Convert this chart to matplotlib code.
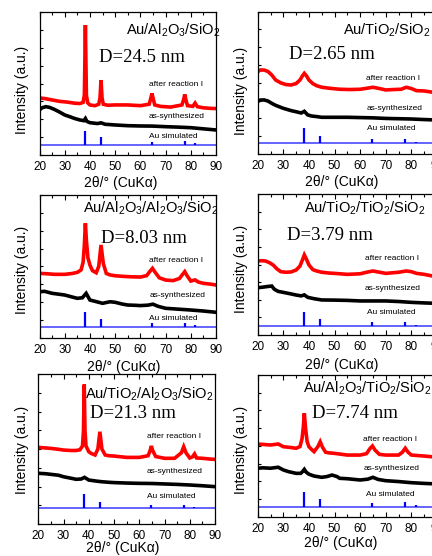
import matplotlib
matplotlib.use("Agg")
import matplotlib.pyplot as plt
from matplotlib.ticker import MultipleLocator, NullFormatter

plt.rcParams['font.family'] = ['Liberation Sans', 'DejaVu Sans']
plt.rcParams['mathtext.fontset'] = 'custom'
plt.rcParams['mathtext.rm'] = 'Liberation Sans'
plt.rcParams['mathtext.default'] = 'regular'

# ---------------- data ----------------
au_peak_pos = [38.2, 44.4, 64.6, 77.6, 81.7]

titles = ['Au/Al$_2$O$_3$/SiO$_2$', 'Au/TiO$_2$/SiO$_2$',
          'Au/Al$_2$O$_3$/Al$_2$O$_3$/SiO$_2$', 'Au/TiO$_2$/TiO$_2$/SiO$_2$',
          'Au/TiO$_2$/Al$_2$O$_3$/SiO$_2$', 'Au/Al$_2$O$_3$/TiO$_2$/SiO$_2$']
sizes = ['D=24.5 nm', 'D=2.65 nm', 'D=8.03 nm', 'D=3.79 nm', 'D=21.3 nm', 'D=7.74 nm']
curve_names = ['after reaction I', 'as-synthesized', 'Au simulated']

# panel 1
p1_red_x = [20, 22, 25, 28, 31, 34, 36, 37.3, 37.8, 38.2, 38.6, 39.1, 40, 42, 43.5, 44.0, 44.4, 44.8, 45.3, 47, 50, 55, 60,
            63.5, 64.2, 64.6, 65.0, 65.7, 68, 72, 76.5, 77.2, 77.6, 78.0, 78.7, 80.8, 81.7, 82.6, 85, 88, 90]
p1_red_y = [39.9, 39.5, 38.5, 37.5, 37, 36.2, 36, 36.8, 42, 90.9, 42, 36.5, 35, 34.5, 35.5, 40, 52.4, 40, 35.5, 34.8, 35, 35, 34.5,
            35.5, 40, 43.1, 40, 35, 34, 33.5, 35, 39, 42.4, 39, 34.5, 34, 36.3, 33.8, 33, 32.6, 32.5]
p1_blk_x = [20, 21, 22.5, 24, 26, 28, 30, 32, 34, 36, 37.6, 38.2, 38.8, 40, 43, 44.4, 46, 50, 55, 60, 65, 70, 75, 80, 85, 90]
p1_blk_y = [31.5, 33, 33.8, 33.3, 31.8, 30, 28, 26.8, 25.5, 24.5, 24, 25.5, 23.5, 22.6, 22, 22.5, 21.5, 21, 20.5, 20.3, 20.2,
            19.8, 19.5, 19.1, 18.3, 17.5]
p1_au_base = 7.0
p1_au_top = [17, 12.8, 9.3, 9.6, 8.3]

# panel 2
p2_red_x = [20, 21, 22.5, 24, 25.5, 27, 29, 31, 33, 35, 36.5, 37.5, 38.2, 39, 40, 41.5, 43, 45, 48, 52, 56, 60, 63, 65, 67,
            70, 73, 76, 78, 80, 82, 85, 88, 90]
p2_red_y = [57.8, 59, 59, 58, 55.5, 52, 50, 48.8, 48.5, 49.5, 52, 55, 56.7, 55, 52, 49.5, 48, 46.9, 46.2, 45.5, 45.3, 45.5,
            46.3, 46.9, 46.2, 45, 45.3, 45.5, 46.9, 46, 44.5, 44.3, 43.5, 43]
p2_blk_x = [20, 21, 22.5, 24, 25.5, 27, 30, 33, 35, 37, 38.2, 39.5, 41, 43, 45, 50, 55, 60, 65, 70, 75, 80, 85, 90]
p2_blk_y = [36.8, 37.9, 38, 37.2, 35.6, 34.2, 32.1, 30.5, 29.7, 28.8, 30, 27.5, 26.7, 26.3, 25.8, 25.8, 25.8, 25.6, 25.4,
            25, 24.8, 24.6, 24.2, 23.9]
p2_au_base = 7.9
p2_au_top = [18, 12.6, 10.3, 10.3, 8.6]

# panel 3
p3_red_x = [20, 23, 26, 30, 33, 35, 36.5, 37.3, 37.8, 38.2, 38.6, 39.2, 40, 41, 42.5, 43.5, 44.4, 45.3, 46.5, 48, 50, 53, 56,
            60, 62.5, 63.8, 64.8, 65.8, 67.5, 70, 73, 75.5, 76.8, 77.6, 78.5, 80, 81.7, 83, 85, 88, 90]
p3_red_y = [45.1, 44.8, 44.4, 44.4, 45, 45.8, 47.5, 53, 65, 80.2, 68, 56, 50.9, 47, 45.5, 50, 65, 52, 45, 44, 43.4, 43, 42.7,
            42.5, 43.5, 46.5, 48.6, 46, 42, 40.4, 40, 41.5, 44.5, 46.3, 43.5, 39.7, 40.5, 39, 38.1, 37.5, 36.9]
p3_blk_x = [20, 22, 25, 28, 30, 33, 35, 37, 38.5, 40, 42, 45, 48, 50, 53, 55, 58, 60, 63, 65, 67, 70, 75, 80, 85, 90]
p3_blk_y = [32.2, 32.5, 31.1, 30.4, 29.9, 28.5, 27.6, 28, 31.1, 26.4, 25.5, 24.1, 25.2, 24.8, 23.5, 22.9, 22.7, 22.5, 22.8,
            23.5, 22, 20.6, 20, 19.4, 18.7, 17.8]
p3_au_base = 7.7
p3_au_top = [18.2, 12.9, 10.1, 10.5, 8.9]

# panel 4
p4_red_x = [20, 21.5, 23, 24.5, 26, 27.5, 29, 31, 33, 35, 36.5, 37.5, 38.2, 39, 40, 41.5, 43, 45, 48, 50, 55, 60, 63, 65, 67,
            70, 75, 78, 80, 82, 85, 88, 90]
p4_red_y = [52.6, 52.8, 52.6, 51.5, 49.8, 47, 45, 44.6, 44.8, 46.2, 49, 53.5, 56.9, 54, 49.8, 46.5, 45.5, 44.6, 44, 43.8,
            43.1, 43.5, 44.8, 45.5, 44.8, 43.8, 44.6, 45.5, 45, 43.8, 43.1, 42, 41.5]
p4_blk_x = [20, 22, 24, 25.5, 26.5, 28, 30, 33, 35, 37, 38.2, 39.5, 42, 45, 50, 55, 60, 65, 70, 75, 80, 85, 90]
p4_blk_y = [33.6, 34, 34.5, 34.8, 32.5, 31, 30.3, 29.2, 28.4, 27.8, 28.5, 26.8, 25.8, 24.9, 24.8, 24.6, 24.2, 24.2, 24.2,
            23.8, 23.2, 22.8, 22.5]
p4_au_base = 6.6
p4_au_top = [16.6, 11.4, 9.0, 9.0, 7.1]

# panel 5
p5_red_x = [20, 22, 25, 28, 30, 33, 35, 36.5, 37.5, 37.9, 38.2, 38.5, 38.9, 40, 41, 42.5, 43.6, 44.4, 45.2, 46.5, 48, 50, 55,
            60, 63.5, 64.3, 64.8, 65.3, 66.5, 70, 74, 76.7, 77.6, 78.5, 80, 81.1, 81.9, 82.7, 85, 88, 90]
p5_red_y = [51.1, 50.8, 50.4, 49.8, 49.3, 49, 49, 49.5, 52, 62, 93, 62, 52, 48.2, 47, 46, 50, 61.5, 50, 46, 45.5, 45.3, 44.4,
            44.4, 45.5, 49, 52, 49, 45, 43.8, 43.8, 47.5, 51.5, 47.5, 44, 44.8, 46.7, 44, 43.8, 43.3, 43.1]
p5_blk_x = [20, 23, 25, 28, 30, 33, 35, 37, 38.3, 40, 43, 45, 48, 50, 55, 60, 65, 70, 75, 80, 85, 90]
p5_blk_y = [33.8, 33.5, 33.1, 32.5, 31.5, 30.5, 29.8, 30, 31.1, 29.3, 28.6, 28.2, 27.8, 27.6, 27.3, 27.1, 27, 26.7, 26.4,
            26, 25.5, 24.9]
p5_au_base = 10.4
p5_au_top = [20, 14.9, 12.7, 12.7, 11.6]

# panel 6
p6_red_x = [20, 22, 25, 28, 30, 33, 35, 36.5, 37.3, 37.8, 38.2, 38.7, 39.3, 40, 41, 42, 43.5, 44.4, 45.3, 46.5, 48, 50, 55,
            60, 62.5, 63.8, 64.8, 65.8, 67.5, 70, 75, 76.5, 77.6, 78.7, 80, 85, 88, 90]
p6_red_y = [51.3, 51, 50.6, 51.3, 49.4, 48.8, 48.3, 49.5, 55, 63, 73, 62, 53, 49.4, 47.5, 45.9, 49.5, 52.9, 49, 45.5, 45,
            44.7, 43.5, 43.5, 44.5, 48, 49.9, 47, 44, 43.5, 43.5, 45.5, 48.3, 45.5, 43.5, 42.8, 42.3, 41.9]
p6_blk_x = [20, 22, 25, 28, 30, 32, 35, 36.8, 37.6, 38.2, 38.9, 40, 42, 45, 47, 49, 51, 52, 55, 60, 63, 65, 67, 70, 75, 80,
            85, 90]
p6_blk_y = [34.2, 34.5, 34.2, 34.9, 33, 31.8, 30.6, 30.6, 32, 33.4, 31.5, 30, 28.7, 27.8, 28.3, 29.4, 28.3, 27.1, 26.8, 25.9,
            26.5, 27.8, 26.3, 25.4, 24.8, 24, 23.5, 23.1]
p6_au_base = 7.1
p6_au_top = [17.6, 12.3, 9.9, 10.1, 8.3]

panels = [
    (p1_red_x, p1_red_y, p1_blk_x, p1_blk_y, p1_au_base, p1_au_top),
    (p2_red_x, p2_red_y, p2_blk_x, p2_blk_y, p2_au_base, p2_au_top),
    (p3_red_x, p3_red_y, p3_blk_x, p3_blk_y, p3_au_base, p3_au_top),
    (p4_red_x, p4_red_y, p4_blk_x, p4_blk_y, p4_au_base, p4_au_top),
    (p5_red_x, p5_red_y, p5_blk_x, p5_blk_y, p5_au_base, p5_au_top),
    (p6_red_x, p6_red_y, p6_blk_x, p6_blk_y, p6_au_base, p6_au_top),
]

# ---------------- layout (pixels: left, top, right, bottom) ----------------
W, H = 432, 556
rects = [(39.5, 12, 216, 155), (257.7, 11.7, 437, 154),
         (39.5, 195, 216, 337.7), (257.7, 194.3, 437, 335),
         (38.3, 374, 215, 524), (257.7, 375, 437, 516.7)]
# text anchors (x left, y center) in pixels
title_pos = [(126, 30), (342.7, 30.7), (83.3, 208.3), (304.3, 208.3), (85, 394), (303.3, 388.3)]
d_pos = [(99, 57), (289, 54), (101, 238.3), (286.7, 235), (90, 413.3), (312.3, 413.3)]
lab_pos = [[(149, 84), (149, 117), (149, 137)],
           [(366, 78.7), (366.7, 108.3), (366.7, 128.3)],
           [(149.3, 261), (149.3, 295.7), (149.3, 318.3)],
           [(365, 258.3), (365, 289), (366.7, 312.7)],
           [(146.7, 436), (146.7, 471.7), (146.7, 496)],
           [(363.3, 439.3), (364, 469), (366, 494.3)]]
ylab_pos = [(22, 90), (241, 91), (22, 270), (241, 269), (22, 450), (241, 450)]
xlab_pos = [(121, 183), (341.7, 181.7), (124, 366.7), (341.7, 365), (123, 548), (340.8, 543.3)]

fig = plt.figure(figsize=(W / 100, H / 100), dpi=100)


def frac(rect, x, y):
    l, t, r, b = rect
    return (x - l) / (r - l), (b - y) / (b - t)


for i, (rx, ry, bx, by, base, tops) in enumerate(panels):
    l, t, r, b = rects[i]
    ax = fig.add_axes([l / W, 1 - b / H, (r - l) / W, (b - t) / H])
    ax.plot(rx, ry, color='#ff0000', lw=2.6, solid_joinstyle='miter')
    ax.plot(bx, by, color='black', lw=2.6, solid_joinstyle='miter')
    ax.axhline(base, color='#3a3aff', lw=1.1)
    ax.vlines(au_peak_pos, base, tops, color='#0000ff', lw=1.6)
    ax.set_xlim(20, 90)
    ax.set_ylim(0, 100)
    ax.xaxis.set_major_locator(MultipleLocator(10))
    ax.xaxis.set_minor_locator(MultipleLocator(5))
    ax.yaxis.set_major_locator(MultipleLocator(12.5))
    ax.yaxis.set_major_formatter(NullFormatter())
    ax.tick_params(axis='x', which='both', direction='in', top=True, labelsize=8.5, pad=4.5, width=0.8)
    ax.tick_params(axis='x', which='major', length=3.5)
    ax.tick_params(axis='x', which='minor', length=2)
    ax.tick_params(axis='y', which='both', direction='in', left=True, right=False, length=2.5, width=0.8)
    for s in ax.spines.values():
        s.set_linewidth(0.9)
    ax.set_xlabel('2θ/° (CuKα)', fontsize=10, va='center', ha='center')
    ax.set_ylabel('Intensity (a.u.)', fontsize=10, va='center', ha='center')
    ax.xaxis.set_label_coords(*frac(rects[i], *xlab_pos[i]))
    ax.yaxis.set_label_coords(*frac(rects[i], *ylab_pos[i]))

    ax.text(*frac(rects[i], *title_pos[i]), titles[i], transform=ax.transAxes,
            fontsize=10.5, ha='left', va='center')
    ax.text(*frac(rects[i], *d_pos[i]), sizes[i], transform=ax.transAxes,
            fontsize=13.5, ha='left', va='center', family='Liberation Serif')
    for k in range(3):
        ax.text(*frac(rects[i], *lab_pos[i][k]), curve_names[k], transform=ax.transAxes,
                fontsize=6, ha='left', va='center')

fig.savefig('out.png', dpi=100)
